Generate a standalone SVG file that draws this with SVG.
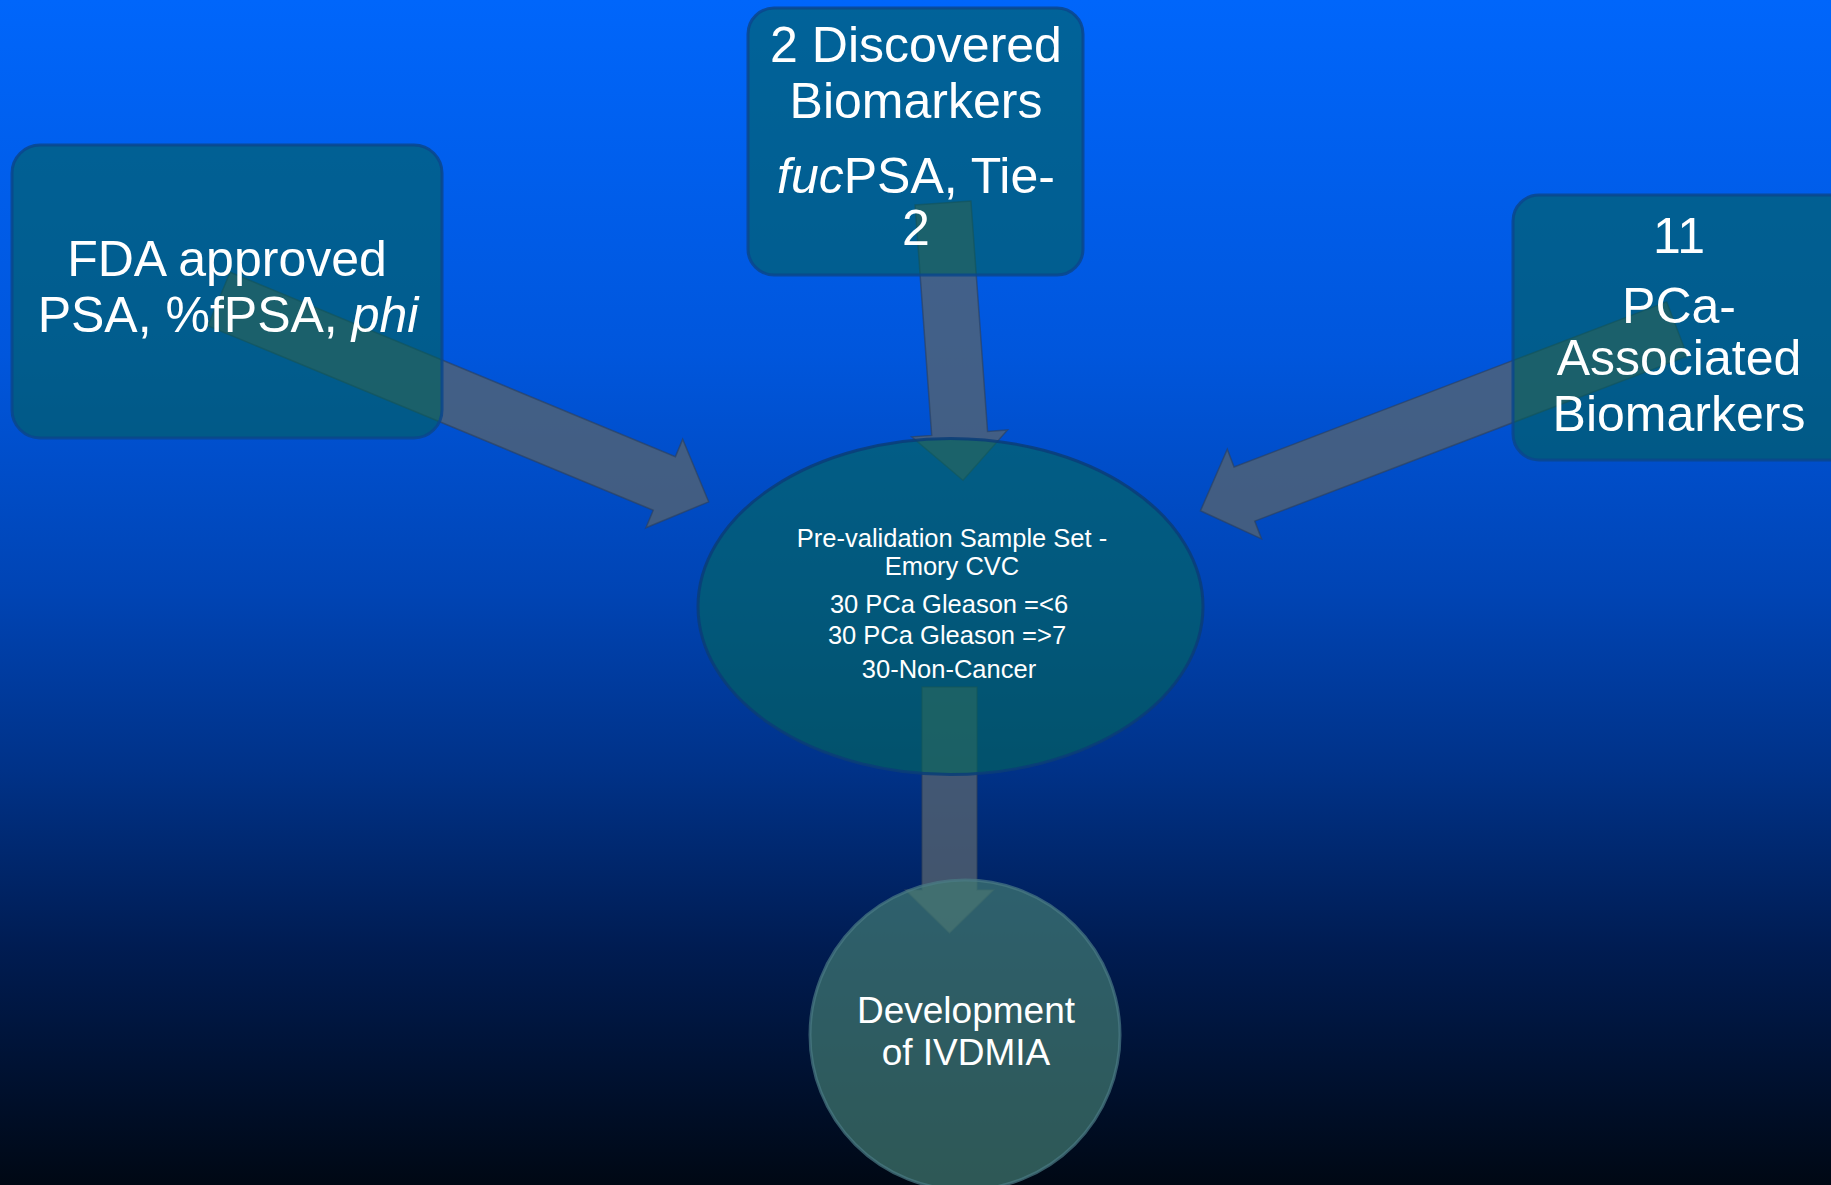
<svg xmlns="http://www.w3.org/2000/svg" width="1831" height="1185" viewBox="0 0 1831 1185">
<defs>
<linearGradient id="bg" x1="0" y1="0" x2="0" y2="1">
<stop offset="0" stop-color="#0066fb"/>
<stop offset="0.3" stop-color="#0056dc"/>
<stop offset="0.5" stop-color="#0044b4"/>
<stop offset="0.65" stop-color="#003288"/>
<stop offset="0.8" stop-color="#001c52"/>
<stop offset="1" stop-color="#000814"/>
</linearGradient>
<style>
.arrow{fill:#546370;fill-opacity:0.78;stroke:#2b3f5c;stroke-opacity:0.6;stroke-width:1.5}
.box{fill:#026058;fill-opacity:0.6;stroke:#0a468c;stroke-width:3;stroke-opacity:0.85}
.ell{fill:#04665a;fill-opacity:0.62;stroke:#0b3d78;stroke-width:3;stroke-opacity:0.85}
.circ{fill:#427a72;fill-opacity:0.7;stroke:#4a7a84;stroke-width:3;stroke-opacity:0.7}
.big{font-family:"Liberation Sans",Arial,sans-serif;font-size:50px;fill:#ffffff;text-anchor:middle}
.mid{font-family:"Liberation Sans",Arial,sans-serif;font-size:37px;fill:#ffffff;text-anchor:middle}
.small{font-family:"Liberation Sans",Arial,sans-serif;font-size:25.5px;fill:#ffffff;text-anchor:middle}
</style>
</defs>
<rect x="0" y="0" width="1831" height="1185" fill="url(#bg)"/>
<g id="connectors">
<polygon class="arrow" transform="translate(219,299) rotate(22.5)" points="0,-29 482,-29 482,-48 530,0 482,48 482,29 0,29"/>
<polygon class="arrow" transform="translate(943,203) rotate(85.87)" points="0,-28 231,-28 231,-48 278,0 231,48 231,28 0,28"/>
<polygon class="arrow" transform="translate(1677,329) rotate(159.12)" points="0,-29 463,-29 463,-48 510,0 463,48 463,29 0,29"/>
<polygon class="arrow" transform="translate(949.5,687) rotate(90)" points="0,-27.5 203,-27.5 203,-44 246,0 203,44 203,27.5 0,27.5"/>
</g>
<g id="node-fda">
<rect class="box" x="12" y="145" width="430" height="293" rx="28" ry="28"/>
<text class="big" x="227" y="276" font-size="49">FDA approved</text>
<text class="big" x="228" y="332" font-size="49">PSA, %fPSA, <tspan font-style="italic">phi</tspan></text>
</g>
<g id="node-discovered">
<rect class="box" x="748" y="8" width="335" height="267" rx="26" ry="26"/>
<text class="big" x="916" y="62">2 Discovered</text>
<text class="big" x="916" y="118">Biomarkers</text>
<text class="big" x="916" y="193"><tspan font-style="italic">fuc</tspan>PSA, Tie-</text>
<text class="big" x="916" y="245">2</text>
</g>
<g id="node-pca">
<rect class="box" x="1513" y="195" width="345" height="265" rx="26" ry="26"/>
<text class="big" x="1679" y="253">11</text>
<text class="big" x="1679" y="323">PCa-</text>
<text class="big" x="1679" y="375">Associated</text>
<text class="big" x="1679" y="431">Biomarkers</text>
</g>
<g id="node-prevalidation">
<ellipse class="ell" cx="950.5" cy="606.5" rx="252.5" ry="168"/>
<text class="small" x="952" y="547">Pre-validation Sample Set -</text>
<text class="small" x="952" y="575">Emory CVC</text>
<text class="small" x="949" y="613">30 PCa Gleason =&lt;6</text>
<text class="small" x="947" y="644">30 PCa Gleason =&gt;7</text>
<text class="small" x="949" y="678">30-Non-Cancer</text>
</g>
<g id="node-ivdmia">
<circle class="circ" cx="965" cy="1035" r="155"/>
<text class="mid" x="966" y="1023">Development</text>
<text class="mid" x="966" y="1065">of IVDMIA</text>
</g>
</svg>
